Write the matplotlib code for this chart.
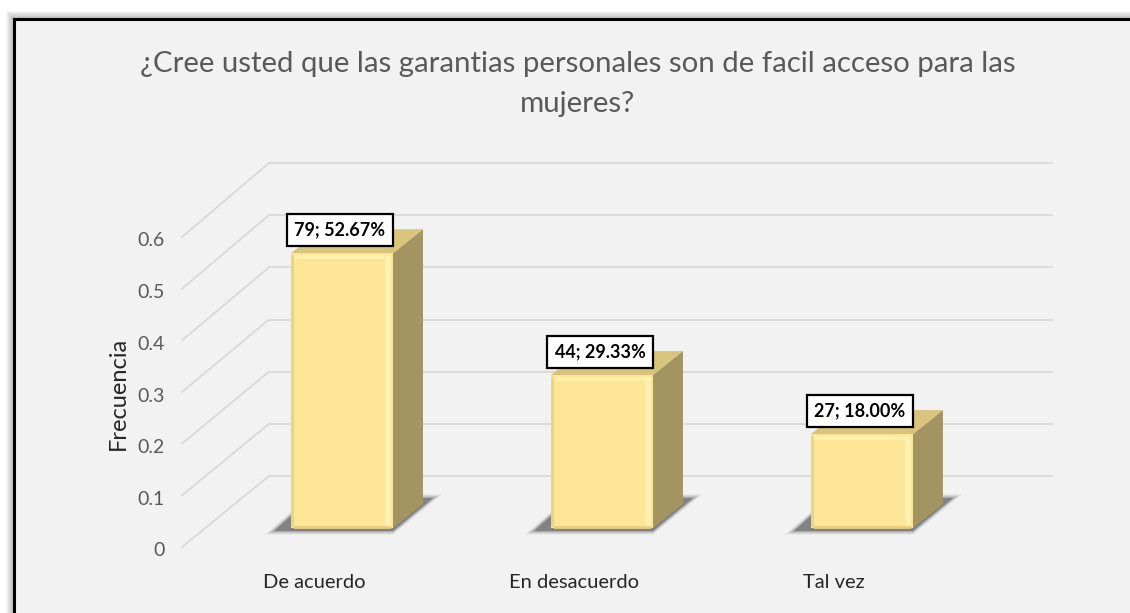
import matplotlib
matplotlib.use("Agg")
import matplotlib.pyplot as plt
from matplotlib.patches import Polygon, Rectangle

# ---------------- data ----------------
categories = ["De acuerdo", "En desacuerdo", "Tal vez"]
counts = [79, 44, 27]
shares = [0.5267, 0.2933, 0.18]
percent_labels = ["52.67%", "29.33%", "18.00%"]
yticks = [0, 0.1, 0.2, 0.3, 0.4, 0.5, 0.6]
ytick_labels = ["0", "0.1", "0.2", "0.3", "0.4", "0.5", "0.6"]
title = "¿Cree usted que las garantias personales son de facil acceso para las\nmujeres?"
ylabel = "Frecuencia"

# ---------------- style ----------------
W, H = 1130, 613
FONT = ["Lato", "DejaVu Sans"]
plt.rcParams["font.family"] = FONT

BG = "#F2F2F2"
GRID = "#D9D9D9"
FRONT = "#FDE597"
SIDE = "#A39461"
TOP = "#D9C47D"
TXT_GRAY = "#595959"

fig = plt.figure(figsize=(W / 100, H / 100), dpi=100)
fig.patch.set_facecolor("white")

# panel with soft shadow
for i in range(8, 0, -1):
    fig.patches.append(Rectangle(((14 - i) / W, -0.1), 1.2, (613 - 19 + i) / H + 0.1,
                                 transform=fig.transFigure, facecolor="black",
                                 alpha=0.035, edgecolor="none", zorder=-12))
fig.patches.append(Rectangle((14 / W, -0.1), 1.2, (613 - 19) / H + 0.1,
                             transform=fig.transFigure, facecolor=BG,
                             edgecolor="black", linewidth=2.2, zorder=-10))

ax = fig.add_axes([205 / W, 85 / H, 783 / W, 313 / H])
x0, x1 = -0.527, 2.485
ax.set_xlim(x0, x1)
ax.set_ylim(0, 0.6)
ax.axis("off")

sx = (x1 - x0) / 783.0     # data units per pixel (x)
sy = 0.6 / 313.0           # data units per pixel (y)

# depth offsets (pixels)
back_dx, back_dy = 64, 52
front_dx, front_dy = -23, -19
front_scale = 310.0 / 313.0

# grid: diagonal on left wall + horizontal on back wall
for v, lab in zip(yticks, ytick_labels):
    xf, yf = x0 + front_dx * sx, v * front_scale + front_dy * sy
    xb, yb = x0 + back_dx * sx, v + back_dy * sy
    ax.plot([xf, xb], [yf, yb], color=GRID, lw=1.3, clip_on=False, zorder=1)
    ax.plot([xb, x1 + back_dx * sx], [yb, yb], color=GRID, lw=1.3, clip_on=False, zorder=1)
    ax.text(xf - 17 * sx, yf - 4 * sy, lab, ha="right", va="center", fontsize=14,
            color=TXT_GRAY, clip_on=False)

# bars
bw = 102 * sx
bdx, bdy = 30 * sx, 24 * sy
xs = list(range(len(categories)))
for x, v in zip(xs, shares):
    # soft shadow on floor
    for k, a in [(9, 0.08), (6, 0.12), (3, 0.18), (0, 0.32)]:
        pts = [(x - bw / 2 - (17 + k) * sx, -(3 + k * 0.4) * sy),
               (x + bw / 2, -(3 + k * 0.4) * sy),
               (x + bw / 2 + bdx + (10 + k) * sx, bdy + (6 + k * 0.4) * sy),
               (x - bw / 2 + bdx - 10 * sx, bdy + (6 + k * 0.4) * sy)]
        ax.add_patch(Polygon(pts, closed=True, facecolor="#2a2a2a", alpha=a,
                             edgecolor="none", zorder=2, clip_on=False))

ax.bar(xs, shares, width=bw, color=FRONT, edgecolor="none", zorder=4, clip_on=False)

for x, v in zip(xs, shares):
    side = [(x + bw / 2, 0), (x + bw / 2 + bdx, bdy), (x + bw / 2 + bdx, v + bdy), (x + bw / 2, v)]
    ax.add_patch(Polygon(side, closed=True, facecolor=SIDE, edgecolor="none", zorder=3, clip_on=False))
    top = [(x - bw / 2, v), (x + bw / 2, v), (x + bw / 2 + bdx, v + bdy), (x - bw / 2 + bdx, v + bdy)]
    ax.add_patch(Polygon(top, closed=True, facecolor=TOP, edgecolor="none", zorder=3, clip_on=False))
    # bevel highlights / shading on the front face
    ax.plot([x + bw / 2 - 5 * sx] * 2, [4 * sy, v - 4 * sy], color="#FFF2B0", lw=4, zorder=5,
            solid_capstyle="round", clip_on=False)
    ax.plot([x - bw / 2 + 4 * sx, x + bw / 2 - 4 * sx], [v - 4 * sy] * 2, color="#FFF0AA", lw=3,
            zorder=5, solid_capstyle="round", clip_on=False)
    ax.plot([x - bw / 2 + 1.5 * sx] * 2, [3 * sy, v - 3 * sy], color="#EDD27E", lw=2, zorder=5,
            solid_capstyle="round", clip_on=False)
    ax.plot([x - bw / 2 + 3 * sx, x + bw / 2 - 3 * sx], [1.5 * sy] * 2, color="#E8CF80", lw=2,
            zorder=5, solid_capstyle="round", clip_on=False)

# data labels
for x, v, c, p in zip(xs, shares, counts, percent_labels):
    ax.text(x - 2 * sx, v + 23 * sy, f"{c}; {p}", ha="center", va="center",
            fontsize=13, fontweight="bold", color="black", zorder=6,
            bbox=dict(boxstyle="square,pad=0.42", facecolor="white", edgecolor="black", linewidth=1.6))

# category labels
for x, cat in zip(xs, categories):
    ax.text(x - 28 * sx, -55 * sy, cat, ha="center", va="center", fontsize=14.5,
            color="#262626", clip_on=False)

# y label
fig.text(118 / W, 1 - 393 / H, ylabel, rotation=90, ha="center", va="center",
         fontsize=17, color="#262626")

# title
fig.text(578 / W, 1 - 84 / H, title, ha="center", va="center", fontsize=21.2,
         color=TXT_GRAY, linespacing=1.7)

fig.savefig("out.png", dpi=100, facecolor=fig.get_facecolor())
